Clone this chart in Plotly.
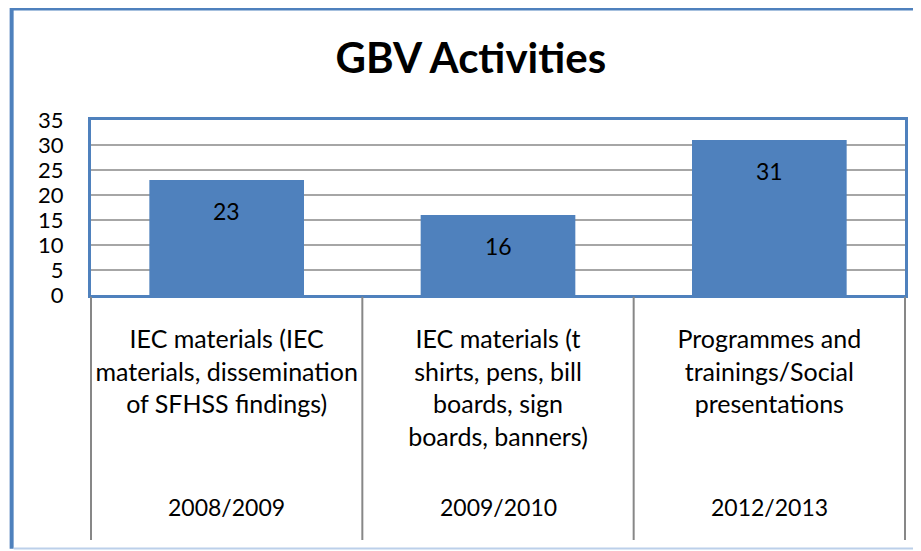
import plotly.graph_objects as go

# Datos del gráfico
periodos = ['2008/2009', '2009/2010', '2012/2013']
actividades = [
    'IEC materials (IEC<br>materials, dissemination<br>of SFHSS findings)',
    'IEC materials (t<br>shirts, pens, bill<br>boards, sign<br>boards, banners)',
    'Programmes and<br>trainings/Social<br>presentations',
]
valores = [23, 16, 31]
ticks_y = [0, 5, 10, 15, 20, 25, 30, 35]

azul = '#4F81BD'
fuente = 'Lato, Carlito, Calibri, sans-serif'

fig = go.Figure()
fig.add_trace(go.Bar(
    x=periodos,
    y=valores,
    marker=dict(color=azul, line=dict(width=0)),
    hoverinfo='skip',
))

# Etiquetas de valor dentro de las barras
for p, v in zip(periodos, valores):
    fig.add_annotation(x=p, y=v, xref='x', yref='y', text=str(v),
                       showarrow=False, yanchor='middle', yshift=-31,
                       font=dict(size=23, color='black', family=fuente))

# Años debajo de cada categoría
for p in periodos:
    fig.add_annotation(x=p, y=-1.21, xref='x', yref='paper', text=p,
                       showarrow=False, yanchor='middle',
                       font=dict(size=23, color='black', family=fuente))

# Líneas divisorias entre categorías
n = len(periodos)
for i in range(n + 1):
    fig.add_shape(type='line', xref='paper', yref='paper',
                  x0=i / n, x1=i / n, y0=-0.01, y1=-1.4,
                  line=dict(color='#878787', width=2))

# Borde exterior del gráfico
fig.add_shape(type='line', xref='paper', yref='paper',
              x0=-0.0975, x1=-0.0975, y0=1.64, y1=-1.45,
              line=dict(color=azul, width=4))
fig.add_shape(type='line', xref='paper', yref='paper',
              x0=-0.0995, x1=1.03, y0=1.637, y1=1.637,
              line=dict(color=azul, width=4))
fig.add_shape(type='line', xref='paper', yref='paper',
              x0=-0.095, x1=1.03, y0=-1.448, y1=-1.448,
              line=dict(color='#BCD0EA', width=2))

# La página tiene 8px de margen en el body, se descuenta aquí
fig.update_layout(
    width=913, height=543,
    margin=dict(l=83, r=16, t=112, b=256),
    paper_bgcolor='white', plot_bgcolor='white',
    showlegend=False,
    bargap=0.43,
    title=dict(text='<b>GBV Activities</b>', x=0.507, xref='container',
               y=0.908, yref='container', xanchor='center', yanchor='middle',
               font=dict(size=42, color='black', family=fuente)),
    font=dict(family=fuente, color='black'),
)

fig.update_xaxes(
    type='category',
    tickvals=periodos,
    ticktext=actividades,
    tickfont=dict(size=25, color='black', family=fuente),
    ticklabelstandoff=20,
    showgrid=False,
    showline=True, linecolor=azul, linewidth=3, mirror=True,
    ticks='',
)
fig.update_yaxes(
    range=[0, 35],
    tickvals=ticks_y,
    tickfont=dict(size=22, color='black', family=fuente),
    ticklabelstandoff=20,
    showgrid=True, gridcolor='#A6A6A6', gridwidth=2,
    showline=True, linecolor=azul, linewidth=3, mirror=True,
    zeroline=False,
    ticks='',
)

fig.write_html('out.html')
